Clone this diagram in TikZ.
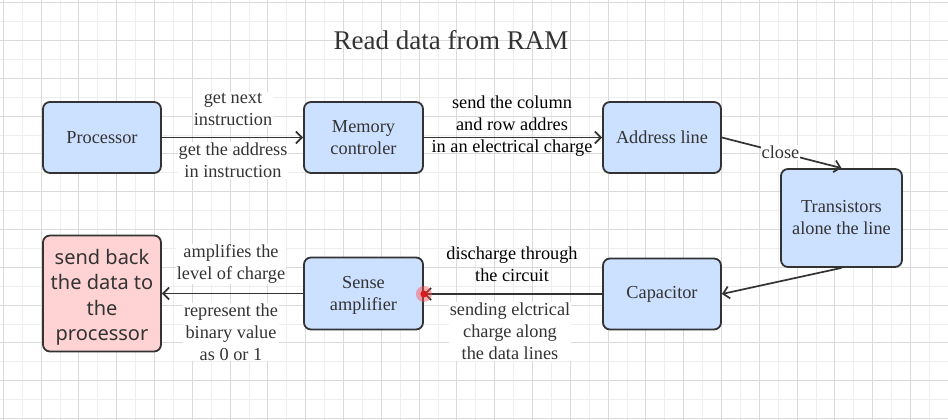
\documentclass[tikz,border=0pt]{standalone}
\usepackage{fontspec}
\setmainfont{Liberation Serif}
\newfontfamily\yahei{Noto Sans}
\usetikzlibrary{arrows.meta}
\definecolor{boxblue}{HTML}{CCE0FF}
\definecolor{boxpink}{HTML}{FFD3D3}
\definecolor{ink}{HTML}{333333}
\definecolor{gridlight}{HTML}{EEEEEE}
\definecolor{griddark}{HTML}{DADADA}
\tikzset{
  box/.style={draw=ink, line width=1.8pt, rounded corners=7pt, fill=boxblue,
    text=ink, align=center, font=\fontsize{18.3}{22}\selectfont, inner sep=0pt},
  pinkbox/.style={box, fill=boxpink, font=\yahei\fontsize{20}{25.5}\selectfont},
  edge/.style={draw=ink, line width=1.7pt, -{Straight Barb[length=6pt,width=12pt,line width=1.7pt]}},
  elabel/.style={align=center, font=\fontsize{18.3}{22}\selectfont, text=ink, fill=white, inner sep=1pt},
  blabel/.style={align=center, font=\fontsize{18.3}{22}\selectfont, text=black, inner sep=1pt},
}
\begin{document}
\begin{tikzpicture}[x=1pt,y=-1pt]
\useasboundingbox (0,0) rectangle (948,420);
\fill[white] (0,0) rectangle (948,420);
\begin{scope}
\clip (0,0) rectangle (948,420);
\foreach \i in {1,3,...,49} \draw[gridlight, line width=1pt] ({3.3+18.9*\i},0) -- ({3.3+18.9*\i},420);
\foreach \j in {1,3,...,21} \draw[gridlight, line width=1pt] (0,{2.7+18.9*\j}) -- (948,{2.7+18.9*\j});
\foreach \i in {0,2,...,50} \draw[griddark, line width=1pt] ({3.3+18.9*\i},0) -- ({3.3+18.9*\i},420);
\foreach \j in {0,2,...,22} \draw[griddark, line width=1pt] (0,{2.7+18.9*\j}) -- (948,{2.7+18.9*\j});
\end{scope}

\node[text=ink, font=\fontsize{27}{32}\selectfont] (title) at (451,40) {Read data from RAM};

\node[box, minimum width=118pt, minimum height=71pt] (proc) at (102,137.5) {Processor};
\node[box, minimum width=119pt, minimum height=71pt] (mem) at (363.5,137.5) {Memory\\controler};
\node[box, minimum width=118pt, minimum height=71pt] (addr) at (662,137.5) {Address line};
\node[box, minimum width=121pt, minimum height=98pt] (trans) at (841.5,218) {Transistors\\alone the line};
\node[box, minimum width=118pt, minimum height=71pt] (cap) at (662,294) {Capacitor};
\node[box, minimum width=119pt, minimum height=72pt] (sense) at (363.5,293.5) {\raisebox{-1.5pt}[\height][\depth]{\begin{tabular}{@{}c@{}}Sense\\amplifier\end{tabular}}};
\node[pinkbox, minimum width=118pt, minimum height=116pt] (back) at (102,293.5) {\raisebox{-4pt}[\height][\depth]{\begin{tabular}{@{}c@{}}send back\\the data to\\the\\processor\end{tabular}}};

\draw[edge] (proc) -- (mem);
\draw[edge] (mem) -- (addr);
\draw[edge] (addr.east) -- (trans.north)
  node[pos=0.49, elabel] (lclose) {close};
\draw[edge] (trans.south) -- (cap.east);
\draw[edge] (cap.west) -- (cap.west -| sense.east) coordinate (capend);
\draw[edge] (sense.west) -- (sense.west -| back.east);

\node[elabel] (l1a) at (233,109) {get next\\instruction};
\node[elabel] (l1b) at (233,160.5) {get the address\\in instruction};
\node[blabel] (l2) at (512,126) {send the column\\and row addres\\in an electrical charge};
\node[blabel] (l5a) at (512,264) {discharge through\\the circuit};
\node[elabel] (l5b) at (510,331.5) {sending elctrical\\charge along\\the data lines};
\node[elabel] (l6a) at (231,264) {amplifies the\\level of charge};
\node[elabel] (l6b) at (231,332) {represent the\\binary value\\as 0 or 1};

\fill[red!70!white, opacity=0.45] (capend) circle (8pt);
\fill[red!85!black!90!white] (capend) circle (3.5pt);
\end{tikzpicture}
\end{document}
